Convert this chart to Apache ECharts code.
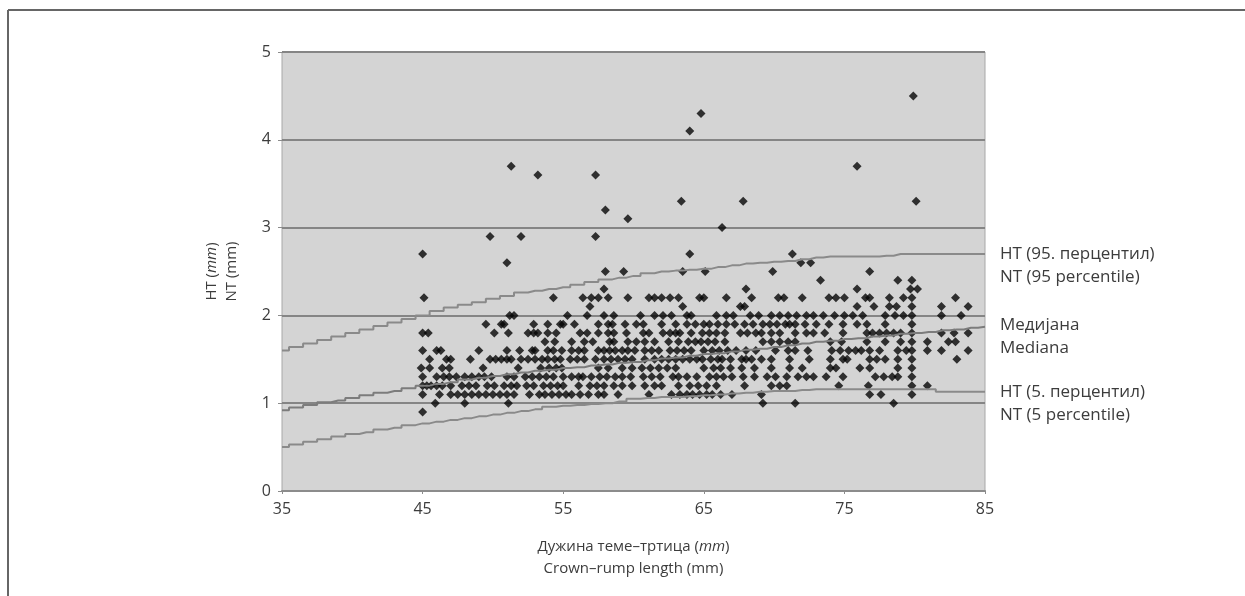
<!DOCTYPE html>
<html>
<head>
<meta charset="utf-8">
<script src="https://cdn.jsdelivr.net/npm/echarts@6/dist/echarts.min.js"></script>
<style>
  html, body { margin: 0; padding: 0; background: #fff; }
  #crlChart { width: 1245px; height: 596px; }
</style>
</head>
<body>
<div id="crlChart"></div>
<script>
// CRL (mm) of each measurement, grouped by NT value (mm)
var crlAt09 = [45.0];
var crlAt10 = [45.9, 48.0, 51.1, 69.2, 71.5, 78.5];
var crlAt11 = [45.0, 46.2, 47.0, 47.5, 48.0, 48.5, 49.0, 49.5, 50.0, 50.5, 51.0, 51.5, 52.6, 53.3, 53.7, 54.2, 54.7, 55.2, 55.6, 56.2, 56.8, 57.5, 57.9, 58.9, 61.1, 62.7, 63.3, 63.8, 64.2, 64.7, 65.2, 65.6, 66.2, 67.0, 69.1, 76.8, 77.6, 79.8];
var crlAt12 = [45.0, 45.3, 45.6, 46.0, 46.4, 47.0, 47.8, 48.3, 48.8, 49.6, 50.1, 50.8, 51.3, 51.7, 52.4, 52.9, 53.6, 54.1, 54.6, 55.0, 56.1, 56.9, 57.4, 57.9, 58.6, 59.2, 59.9, 60.8, 61.5, 62.0, 63.2, 64.0, 64.6, 65.2, 65.9, 67.9, 69.8, 70.4, 70.9, 74.6, 76.7, 79.8, 80.9];
var crlAt13 = [45.0, 46.0, 46.5, 46.9, 47.4, 48.0, 48.5, 49.0, 49.4, 49.9, 51.0, 51.5, 52.3, 52.8, 53.3, 53.8, 54.3, 55.0, 55.6, 56.1, 56.4, 57.0, 57.6, 58.1, 58.7, 59.2, 59.8, 60.7, 61.3, 61.9, 62.8, 63.2, 63.8, 64.5, 65.4, 65.9, 66.4, 67.0, 67.8, 68.6, 69.5, 70.1, 70.9, 71.7, 72.3, 72.8, 73.7, 74.9, 77.2, 77.8, 78.4, 78.8, 79.8];
var crlAt14 = [44.9, 45.5, 46.4, 46.9, 49.3, 51.8, 53.4, 54.0, 54.5, 54.9, 57.5, 58.2, 59.2, 59.9, 60.6, 61.2, 61.8, 62.4, 63.0, 65.0, 65.7, 66.2, 66.9, 67.7, 68.6, 69.8, 71.1, 72.0, 74.0, 74.4, 76.1, 76.8, 78.8, 79.8];
var crlAt15 = [45.5, 46.7, 47.0, 48.4, 49.8, 50.2, 50.6, 51.0, 51.3, 52.0, 52.5, 53.0, 53.5, 53.9, 54.4, 54.8, 55.5, 56.0, 56.5, 57.3, 57.9, 58.4, 58.9, 59.4, 59.9, 60.8, 61.5, 62.0, 62.5, 63.0, 63.5, 64.0, 64.5, 64.9, 65.5, 66.0, 66.3, 66.9, 67.7, 68.0, 68.4, 69.1, 69.8, 71.1, 72.5, 74.0, 74.9, 75.2, 76.8, 77.3, 77.9, 78.8, 79.8, 83.0];
var crlAt16 = [45.0, 46.0, 46.3, 49.0, 51.0, 51.9, 52.8, 53.0, 53.9, 54.3, 54.9, 55.6, 56.1, 56.5, 57.5, 57.9, 58.3, 58.7, 59.2, 59.6, 60.1, 60.8, 61.3, 61.8, 62.6, 63.1, 63.6, 64.1, 65.0, 65.6, 66.1, 66.7, 67.3, 68.0, 68.7, 70.1, 71.0, 71.5, 72.4, 74.1, 74.7, 75.3, 75.8, 76.2, 76.8, 77.5, 78.8, 79.4, 79.8, 80.9, 81.9, 83.8];
var crlAt17 = [53.7, 54.4, 55.6, 56.5, 57.1, 58.3, 58.6, 59.6, 60.2, 60.8, 61.5, 62.5, 63.2, 63.9, 64.4, 64.8, 65.3, 65.8, 66.5, 69.2, 69.8, 70.4, 71.0, 71.5, 74.0, 74.8, 76.6, 77.9, 79.0, 79.8, 80.9, 82.4, 82.9];
var crlAt18 = [45.0, 45.4, 50.1, 51.1, 52.5, 52.9, 53.2, 53.9, 54.5, 56.2, 56.7, 57.5, 58.2, 58.6, 59.5, 60.7, 61.1, 62.1, 62.6, 63.0, 63.3, 64.1, 64.9, 65.4, 65.9, 66.5, 67.6, 68.1, 68.7, 69.1, 69.8, 70.4, 71.5, 72.3, 72.8, 73.6, 74.9, 76.6, 77.0, 77.5, 78.0, 78.5, 79.0, 79.8, 81.9, 82.8, 83.8];
var crlAt19 = [49.5, 50.6, 50.8, 52.9, 53.9, 54.8, 55.0, 55.8, 57.5, 58.2, 58.5, 59.4, 60.2, 60.7, 62.0, 63.0, 63.8, 64.4, 65.0, 65.4, 66.0, 66.6, 67.2, 67.9, 68.5, 69.2, 69.7, 70.2, 70.8, 71.1, 71.5, 72.2, 73.0, 73.9, 74.9, 75.9, 76.6, 77.9, 79.8];
var crlAt20 = [51.2, 51.5, 55.3, 56.7, 57.9, 58.6, 60.5, 61.5, 62.1, 62.7, 63.8, 64.1, 65.9, 66.6, 67.1, 68.3, 68.9, 69.8, 70.4, 71.0, 71.6, 72.3, 72.8, 73.5, 74.3, 75.0, 75.6, 76.3, 77.9, 78.6, 79.2, 79.8, 81.9, 83.3];
var crlAt21 = [56.9, 63.5, 67.6, 67.9, 75.9, 77.1, 78.2, 78.7, 79.8, 81.9, 83.8];
var crlAt22 = [45.1, 54.3, 56.4, 57.0, 57.5, 58.2, 59.6, 61.1, 61.5, 62.0, 62.6, 63.2, 64.7, 65.0, 66.6, 68.4, 70.3, 70.7, 72.0, 73.9, 74.4, 75.0, 76.5, 76.8, 78.2, 79.2, 79.8, 82.9];
var crlAt23 = [57.9, 68.0, 75.9, 79.7, 80.2];
var crlAt24 = [73.3, 78.8, 79.8];
var crlAt25 = [58.0, 59.3, 63.5, 65.1, 69.9, 76.8];
var crlAt26 = [51.0, 71.9, 72.6];
var crlAt27 = [45.0, 64.0, 71.3];
var crlAt29 = [49.8, 52.0, 57.3];
var crlAt30 = [66.3];
var crlAt31 = [59.6];
var crlAt32 = [58.0];
var crlAt33 = [63.4, 67.8, 80.1];
var crlAt36 = [53.2, 57.3];
var crlAt37 = [51.3, 75.9];
var crlAt41 = [64.0];
var crlAt43 = [64.8];
var crlAt45 = [79.9];

// percentile curves, one value per mm of CRL
var crlGrid = [35, 36, 37, 38, 39, 40, 41, 42, 43, 44, 45, 46, 47, 48, 49, 50, 51, 52, 53, 54, 55, 56, 57, 58, 59, 60,
  61, 62, 63, 64, 65, 66, 67, 68, 69, 70, 71, 72, 73, 74, 75, 76, 77, 78, 79, 80, 81, 82, 83, 84, 85];
var p95 = [1.60, 1.64, 1.68, 1.72, 1.76, 1.80, 1.84, 1.88, 1.92, 1.96, 2.00, 2.05, 2.09, 2.12, 2.15, 2.19, 2.22, 2.26, 2.28, 2.30,
  2.32, 2.35, 2.38, 2.41, 2.43, 2.45, 2.48, 2.50, 2.51, 2.52, 2.53, 2.55, 2.57, 2.59, 2.60, 2.61, 2.62, 2.64, 2.66, 2.67,
  2.67, 2.67, 2.67, 2.68, 2.70, 2.70, 2.70, 2.70, 2.70, 2.70, 2.70];
var p50 = [0.92, 0.95, 0.98, 1.01, 1.03, 1.06, 1.09, 1.12, 1.14, 1.17, 1.20, 1.22, 1.24, 1.27, 1.29, 1.31, 1.33, 1.35, 1.37, 1.38,
  1.40, 1.41, 1.43, 1.44, 1.46, 1.47, 1.49, 1.51, 1.52, 1.54, 1.56, 1.57, 1.59, 1.61, 1.62, 1.64, 1.66, 1.68, 1.70, 1.71,
  1.73, 1.74, 1.76, 1.77, 1.79, 1.80, 1.81, 1.83, 1.84, 1.86, 1.87];
var p5 = [0.50, 0.53, 0.56, 0.59, 0.62, 0.65, 0.67, 0.70, 0.72, 0.75, 0.77, 0.79, 0.81, 0.83, 0.85, 0.87, 0.89, 0.91, 0.93, 0.96,
  0.97, 0.98, 0.99, 1.00, 1.02, 1.05, 1.06, 1.07, 1.07, 1.08, 1.09, 1.10, 1.11, 1.12, 1.13, 1.14, 1.14, 1.15, 1.16, 1.16,
  1.16, 1.16, 1.16, 1.16, 1.16, 1.16, 1.16, 1.13, 1.13, 1.13, 1.13];

var groups = [
  [0.9, crlAt09], [1.0, crlAt10], [1.1, crlAt11], [1.2, crlAt12], [1.3, crlAt13], [1.4, crlAt14],
  [1.5, crlAt15], [1.6, crlAt16], [1.7, crlAt17], [1.8, crlAt18], [1.9, crlAt19], [2.0, crlAt20],
  [2.1, crlAt21], [2.2, crlAt22], [2.3, crlAt23], [2.4, crlAt24], [2.5, crlAt25], [2.6, crlAt26],
  [2.7, crlAt27], [2.9, crlAt29], [3.0, crlAt30], [3.1, crlAt31], [3.2, crlAt32], [3.3, crlAt33],
  [3.6, crlAt36], [3.7, crlAt37], [4.1, crlAt41], [4.3, crlAt43], [4.5, crlAt45]
];

var points = [];
groups.forEach(function (g) {
  g[1].forEach(function (x) { points.push([x, g[0]]); });
});

function pairs(ys) {
  return crlGrid.map(function (x, i) { return [x, ys[i]]; });
}

var font = '"Open Sans", "Noto Sans", sans-serif';
var txt = '#3c3c3c';

var myChart = echarts.init(document.getElementById('crlChart'));

function curve(name, ys, label, dy, color) {
  return {
    name: name,
    type: 'line',
    step: 'middle',
    symbol: 'none',
    z: 3,
    lineStyle: { color: color, width: 2 },
    endLabel: {
      show: true,
      formatter: label,
      distance: 15,
      offset: [0, dy],
      color: txt,
      fontFamily: font,
      fontSize: 17,
      lineHeight: 23,
      align: 'left'
    },
    data: pairs(ys)
  };
}

var option = {
  animation: false,
  grid: {
    left: 282,
    right: 260,
    top: 52,
    bottom: 105,
    show: true,
    backgroundColor: '#d4d4d4',
    borderColor: '#a8a8a8',
    borderWidth: 1
  },
  graphic: [
    { type: 'line', shape: { x1: 8, y1: 10, x2: 1245, y2: 10 }, style: { stroke: '#666', lineWidth: 2 } },
    { type: 'line', shape: { x1: 8, y1: 10, x2: 8, y2: 596 }, style: { stroke: '#666', lineWidth: 2 } }
  ],
  xAxis: {
    type: 'value',
    min: 35,
    max: 85,
    interval: 10,
    name: '{n|Дужина теме–тртица (}{i|mm}{n|)}\n{n|Crown–rump length (mm)}',
    nameLocation: 'middle',
    nameGap: 45,
    nameTextStyle: {
      rich: {
        n: { fontFamily: font, fontSize: 15, color: txt, lineHeight: 22 },
        i: { fontFamily: font, fontSize: 15, color: txt, lineHeight: 22, fontStyle: 'italic' }
      }
    },
    axisLine: { lineStyle: { color: '#8c8c8c', width: 2 } },
    axisTick: { show: true, length: 3, lineStyle: { color: '#8c8c8c' } },
    axisLabel: { margin: 10, color: txt, fontFamily: font, fontSize: 16 },
    splitLine: { show: false }
  },
  yAxis: {
    type: 'value',
    min: 0,
    max: 5,
    interval: 1,
    name: '{n|HT (}{i|mm}{n|)}\n{n|NT (mm)}',
    nameLocation: 'middle',
    nameRotate: 90,
    nameGap: 40,
    nameTextStyle: {
      rich: {
        n: { fontFamily: font, fontSize: 15, color: txt, lineHeight: 20 },
        i: { fontFamily: font, fontSize: 15, color: txt, lineHeight: 20, fontStyle: 'italic' }
      }
    },
    axisLine: { show: false },
    axisTick: { show: true, length: 4, lineStyle: { color: '#8c8c8c' } },
    axisLabel: { margin: 11, color: txt, fontFamily: font, fontSize: 16 },
    splitLine: { show: true, lineStyle: { color: '#858585', width: 2 } }
  },
  series: [
    {
      name: 'NT',
      type: 'scatter',
      symbol: 'diamond',
      symbolSize: 9,
      z: 2,
      itemStyle: { color: '#050505' },
      data: points
    },
    curve('p95', p95, 'HT (95. перцентил)\nNT (95 percentile)', 12, '#8a8a8a'),
    curve('p50', p50, 'Медијана\nMediana', 10, '#7c7c7c'),
    curve('p5', p5, 'HT (5. перцентил)\nNT (5 percentile)', 12, '#8a8a8a')
  ]
};

myChart.setOption(option);
</script>
</body>
</html>
